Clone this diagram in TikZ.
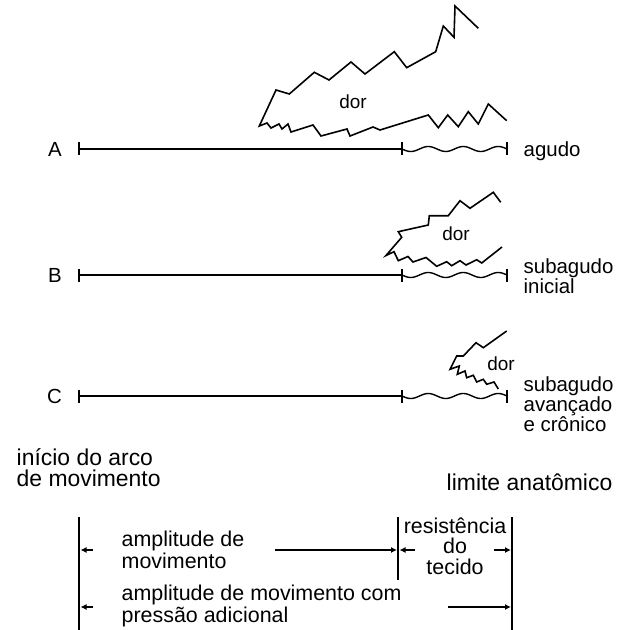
\documentclass[tikz,border=0pt]{standalone}
\usepackage{fontspec}
\setmainfont{Liberation Sans}
\usetikzlibrary{arrows.meta}
\begin{document}
\begin{tikzpicture}[x=1bp,y=-1bp, line width=1.4bp,
  txt/.style={inner sep=0pt, font=\fontsize{20.5}{20}\selectfont},
  rlbl/.style={txt, align=left, anchor=base west},
  btxt/.style={inner sep=0pt, font=\fontsize{21.5}{21.5}\selectfont},
  big/.style={inner sep=0pt, font=\fontsize{23}{21.7}\selectfont},
  dorlbl/.style={inner sep=0pt, font=\fontsize{19}{20}\selectfont},
  arr/.style={-{Latex[length=6bp,width=6bp]}, line width=1.3bp},
  zig/.style={line width=1.6bp, line join=miter},
  bar/.style={line width=1.4bp}]
\useasboundingbox (0,0) rectangle (628,630);

% rows
\foreach \n/\r in {A/149,B/275,C/396} {
  \node[txt, anchor=east] (lab\n) at (62.5,\r) {\n};
  \coordinate (s\n) at (79,\r);
  \coordinate (m\n) at (402,\r);
  \coordinate (e\n) at (507,\r);
  \draw (s\n) -- (m\n);
  \draw ([yshift=6.5bp]s\n) -- ([yshift=-6.5bp]s\n);
  \draw ([yshift=6.5bp]m\n) -- ([yshift=-6.5bp]m\n);
  \draw ([yshift=6.5bp]e\n) -- ([yshift=-6.5bp]e\n);
  \draw plot[domain=402:507, samples=80, smooth] (\x,{\r+2.5*sin(((\x-402)/35)*360)});
}

% pain zigzags
\draw[zig] (478.3,28.3) -- (455,6) -- (454,37.3) -- (443.3,26) -- (435.7,51.7) -- (406.7,67.7)
  -- (394.3,51.7) -- (365,74) -- (351,62) -- (329,80) -- (314.3,72.3) -- (289.3,94) -- (276,90)
  -- (259.3,126) -- (267,123) -- (271,128) -- (279,124) -- (282,129) -- (288,124) -- (291,132)
  -- (313,125) -- (321,136) -- (347,129) -- (350,136) -- (373,127) -- (380,130) -- (428.3,115)
  -- (438.3,127.7) -- (447.7,115) -- (458.3,126.7) -- (468.3,111.7) -- (478.3,124) -- (488.3,104)
  -- (506.7,120.7);
\node[dorlbl] (dorA) at (353,101.5) {dor};

\draw[zig] (500.7,202.3) -- (493.3,192.3) -- (470,208.3) -- (460,200.7) -- (448.3,215.7)
  -- (429.3,215.7) -- (428.3,225) -- (398.3,231.7) -- (401.7,237.3) -- (386,255.5)
  -- (394,251.7) -- (398.3,260.7) -- (408,256.5) -- (413,262) -- (426,257.5)
  -- (436.7,266.3) -- (446.7,261.7) -- (451.7,265.7) -- (460,260.7) -- (466,265)
  -- (476.7,259.7) -- (481.7,263) -- (502,247);
\node[dorlbl] (dorB) at (456,234) {dor};

\draw[zig] (506.7,331) -- (483.3,347.7) -- (476,342.7) -- (463.3,356) -- (456.7,356) -- (450,369.3)
  -- (459.3,366) -- (457.3,374.3) -- (465,371) -- (466.7,377.7) -- (473.3,375.3) -- (476.7,382)
  -- (483.3,379.3) -- (486.7,384.3) -- (494,382) -- (498.3,389);
\node[dorlbl] (dorC) at (501,364) {dor};

% right labels (anchor = baseline of last line)
\node[rlbl] (agudo) at (523,157) {agudo};
\node[rlbl] (subB) at (523,293) {subagudo\\inicial};
\node[rlbl] (subC) at (523,431) {subagudo\\avançado\\e crônico};

% bottom labels
\node[big, align=left, anchor=base west] (inicio) at (16,486.7) {início do arco\\de movimento};
\node[big, anchor=base east] (limite) at (613,490) {limite anatômico};

% measurement bars
\coordinate (L1) at (79,517);  \coordinate (L2) at (79,630);
\coordinate (M1) at (398,517); \coordinate (M2) at (398,580);
\coordinate (R1) at (512,517); \coordinate (R2) at (512,630);
\draw[bar] (L1) -- (L2);
\draw[bar] (M1) -- (M2);
\draw[bar] (R1) -- (R2);

% row 1
\node[btxt, align=left, anchor=base west] (amp1) at (121,568) {amplitude de\\movimento};
\coordinate (a1s) at (93,550);  \coordinate (a1e) at (80.5,550);
\coordinate (a2s) at (275,550); \coordinate (a2e) at (397,550);
\draw[arr] (a1s) -- (a1e);
\draw[arr] (a2s) -- (a2e);
\node[btxt, font=\fontsize{21.5}{20.5}\selectfont, align=center, anchor=base] (res) at (455,574) {resistência\\do\\tecido};
\coordinate (r1s) at (415,550); \coordinate (r1e) at (399.5,550);
\coordinate (r2s) at (494,550); \coordinate (r2e) at (511,550);
\draw[arr] (r1s) -- (r1e);
\draw[arr] (r2s) -- (r2e);

% row 2
\node[btxt, align=left, anchor=base west] (amp2) at (121,622) {amplitude de movimento com\\pressão adicional};
\coordinate (b1s) at (93,607);  \coordinate (b1e) at (80.5,607);
\coordinate (b2s) at (448,607); \coordinate (b2e) at (511,607);
\draw[arr] (b1s) -- (b1e);
\draw[arr] (b2s) -- (b2e);
\end{tikzpicture}
\end{document}
